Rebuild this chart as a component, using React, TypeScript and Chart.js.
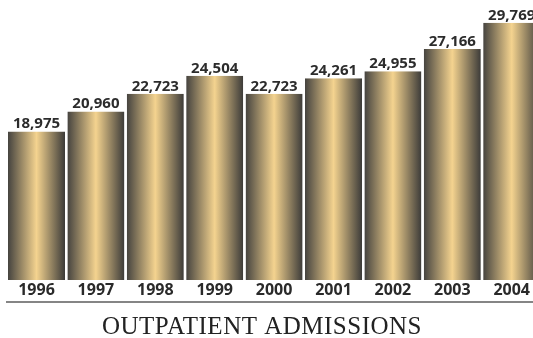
import React, { useEffect, useRef } from "react";
import { Chart, registerables } from "chart.js";

Chart.register(...registerables);

// Outpatient admissions per year
const years = ["1996", "1997", "1998", "1999", "2000", "2001", "2002", "2003", "2004"];
const admissions = [18975, 20960, 22723, 24504, 22723, 24261, 24955, 27166, 29769];
const chartTitle = "OUTPATIENT ADMISSIONS";

const CANVAS_W = 545;
const CANVAS_H = 338;
const BAR_SHARE = 0.96;

const numberFmt = new Intl.NumberFormat("en-US");

// Horizontal metallic gradient: dark edges, golden centre
function barGradient(ctx: any) {
  const chart = ctx.chart;
  const xs = chart.scales && chart.scales.x;
  if (ctx.type !== "data" || !chart.chartArea || !xs) return "#c8b27e";
  const step = xs.width / years.length;
  const cx = xs.getPixelForValue(ctx.dataIndex);
  const half = (step * BAR_SHARE) / 2;
  const g = chart.ctx.createLinearGradient(cx - half, 0, cx + half, 0);
  g.addColorStop(0, "#45433f");
  g.addColorStop(0.5, "#f4d38f");
  g.addColorStop(1, "#3c3b39");
  return g;
}

const valueLabels = {
  id: "valueLabels",
  afterDatasetsDraw(chart: any) {
    const { ctx } = chart;
    const meta = chart.getDatasetMeta(0);
    ctx.save();
    ctx.font = "bold 15px 'Open Sans'";
    ctx.fillStyle = "#2c2c2c";
    ctx.textAlign = "center";
    ctx.textBaseline = "alphabetic";
    meta.data.forEach((bar: any, i: number) => {
      ctx.fillText(numberFmt.format(admissions[i]), bar.x, bar.y - 3);
    });
    ctx.restore();
  },
};

const footer = {
  id: "footer",
  afterDraw(chart: any) {
    const { ctx } = chart;
    ctx.save();
    ctx.strokeStyle = "#858585";
    ctx.lineWidth = 2;
    ctx.beginPath();
    ctx.moveTo(6, 302);
    ctx.lineTo(CANVAS_W, 302);
    ctx.stroke();

    ctx.font = "25px 'Liberation Serif'";
    (ctx as any).letterSpacing = "0.5px";
    ctx.fillStyle = "#222222";
    ctx.textAlign = "center";
    ctx.textBaseline = "alphabetic";
    ctx.fillText(chartTitle, 262, 334);
    ctx.restore();
  },
};

export default function App() {
  const canvasRef = useRef<HTMLCanvasElement | null>(null);

  useEffect(() => {
    const canvas = canvasRef.current;
    if (!canvas) return;
    const chart = new Chart(canvas, {
      type: "bar",
      data: {
        labels: years,
        datasets: [
          {
            data: admissions,
            backgroundColor: barGradient,
            borderColor: "#35332f",
            borderWidth: { top: 0, left: 0, right: 0, bottom: 2 },
            borderSkipped: false,
            categoryPercentage: 1,
            barPercentage: BAR_SHARE,
          },
        ],
      },
      options: {
        responsive: false,
        animation: false,
        devicePixelRatio: 1,
        layout: { padding: { left: 6.8, right: 3.6, top: 20, bottom: 0 } },
        plugins: {
          legend: { display: false },
          tooltip: { enabled: false },
          title: { display: false },
        },
        scales: {
          x: {
            grid: { display: false, drawTicks: false, tickLength: 0 },
            border: { display: false },
            ticks: {
              padding: 1,
              color: "#2a2a2a",
              font: { family: "'Open Sans'", size: 16, weight: "bold" },
              maxRotation: 0,
              autoSkip: false,
            },
            afterFit(scale: any) {
              scale.height = 58;
            },
          },
          y: {
            display: false,
            min: 4200,
            max: 30050,
          },
        },
      },
      plugins: [valueLabels, footer],
    });
    return () => chart.destroy();
  }, []);

  return (
    <div
      style={{
        position: "fixed",
        left: 0,
        top: 0,
        width: 533,
        height: 338,
        overflow: "hidden",
        background: "#ffffff",
      }}
    >
      <canvas
        ref={canvasRef}
        width={CANVAS_W}
        height={CANVAS_H}
        style={{ width: CANVAS_W, height: CANVAS_H, display: "block" }}
      />
    </div>
  );
}
